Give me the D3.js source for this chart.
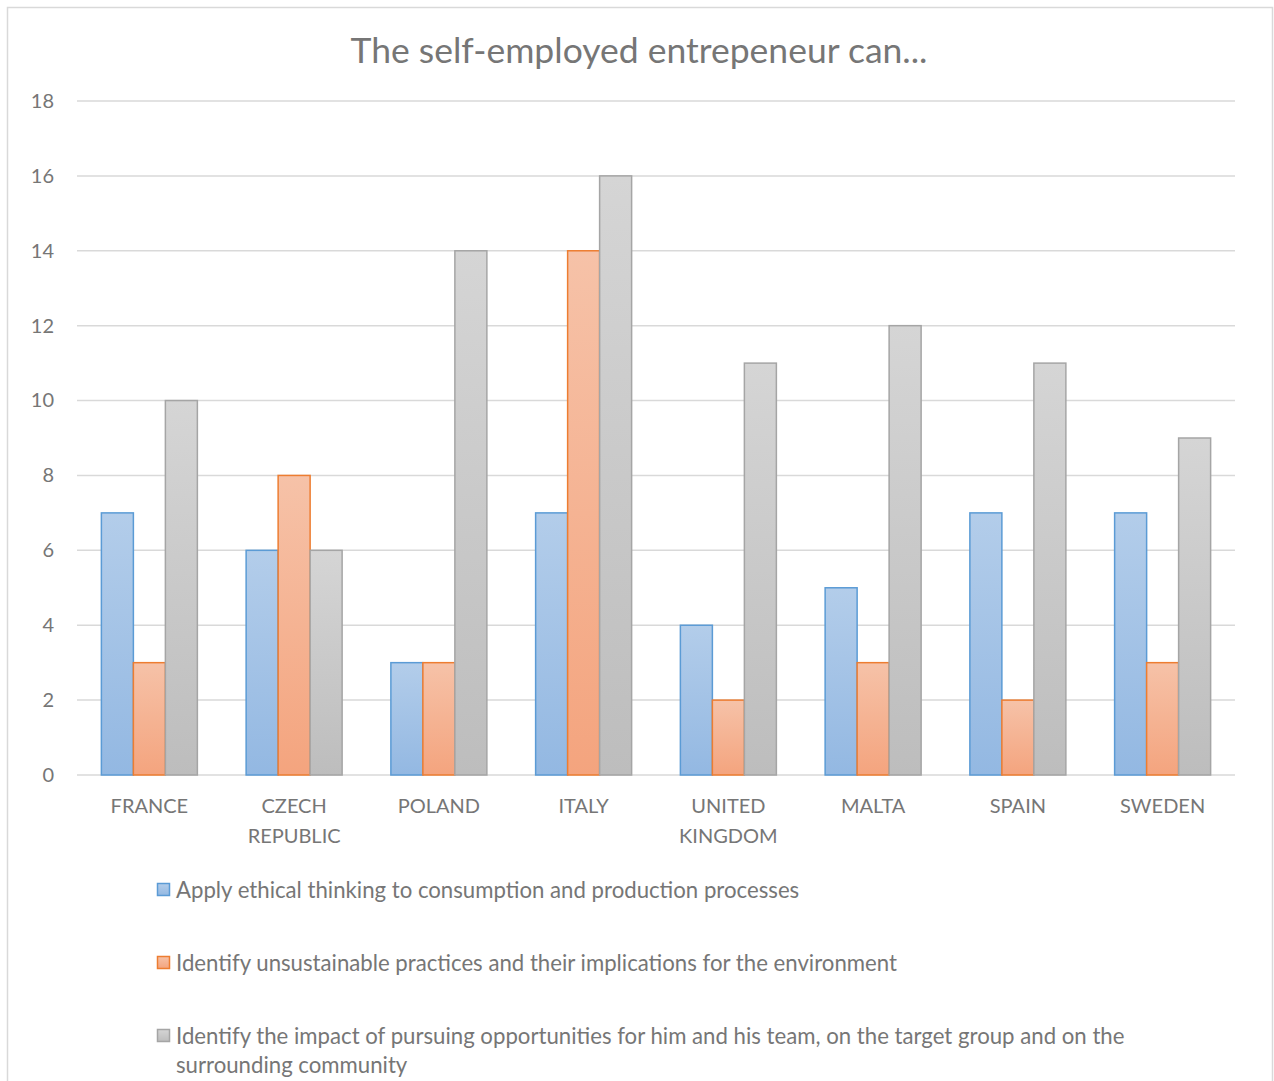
<!DOCTYPE html>
<html>
<head>
<meta charset="utf-8">
<script src="https://cdn.jsdelivr.net/npm/d3@7"></script>
<style>
  html, body { margin: 0; padding: 0; background: #fff; }
  svg { display: block; }
  text { font-family: Lato, "Open Sans", sans-serif; fill: #767676; }
</style>
</head>
<body>
<svg id="chart" width="1274" height="1081"></svg>
<script>
// Survey responses per country
const countries = [["FRANCE"], ["CZECH", "REPUBLIC"], ["POLAND"], ["ITALY"],
  ["UNITED", "KINGDOM"], ["MALTA"], ["SPAIN"], ["SWEDEN"]];
const seriesNames = [
  "Apply ethical thinking to consumption and production processes",
  "Identify unsustainable practices and their implications for the environment",
  "Identify the impact of pursuing opportunities for him and his team, on the target group and on the|surrounding community"
];
const ethicalThinking   = [7, 6, 3, 7, 4, 5, 7, 7];
const unsustainable     = [3, 8, 3, 14, 2, 3, 2, 3];
const impactOnCommunity = [10, 6, 14, 16, 11, 12, 11, 9];
const yTicks = [0, 2, 4, 6, 8, 10, 12, 14, 16, 18];

const series = [ethicalThinking, unsustainable, impactOnCommunity];
const palette = [
  { top: "#b3cdea", bottom: "#93b8e2", stroke: "#5b9bd5" },
  { top: "#f6c2a8", bottom: "#f4a47e", stroke: "#ed7d31" },
  { top: "#d5d5d5", bottom: "#bdbdbd", stroke: "#a5a5a5" }
];

const svg = d3.select("#chart");
const defs = svg.append("defs");
palette.forEach((p, i) => {
  const g = defs.append("linearGradient").attr("id", "grad" + i)
    .attr("x1", 0).attr("y1", 0).attr("x2", 0).attr("y2", 1);
  g.append("stop").attr("offset", "0%").attr("stop-color", p.top);
  g.append("stop").attr("offset", "100%").attr("stop-color", p.bottom);
});

// Chart frame
svg.append("rect").attr("x", 7.5).attr("y", 7.5).attr("width", 1265).attr("height", 1100)
  .attr("fill", "#fff").attr("stroke", "#d9d9d9").attr("stroke-width", 1.5);

const plotLeft = 77, plotRight = 1235, plotTop = 101, plotBottom = 775;

const x = d3.scaleBand().domain(d3.range(countries.length))
  .range([plotLeft, plotRight]).paddingInner(0.3368).paddingOuter(0.1684);
const xs = d3.scaleBand().domain(d3.range(series.length)).range([0, x.bandwidth()]);
const y = d3.scaleLinear().domain([0, 18]).range([plotBottom, plotTop]);

// Title
svg.append("text").attr("x", 639).attr("y", 63).attr("text-anchor", "middle")
  .style("font-size", "35.5px").text("The self-employed entrepeneur can...");

// Gridlines
svg.append("g").selectAll("line").data(yTicks).join("line")
  .attr("x1", plotLeft).attr("x2", plotRight)
  .attr("y1", d => y(d)).attr("y2", d => y(d))
  .attr("stroke", "#d9d9d9").attr("stroke-width", 1.5);

// Y axis labels
const yAxis = d3.axisLeft(y).tickValues(yTicks).tickSize(0).tickPadding(0);
const ya = svg.append("g").attr("transform", "translate(54,0)").call(yAxis);
ya.select(".domain").remove();
ya.selectAll("text").style("font-size", "20px").attr("fill", "#767676")
  .style("font-family", "Lato, sans-serif");

// Bars
series.forEach((vals, si) => {
  svg.append("g").selectAll("rect").data(vals).join("rect")
    .attr("x", (d, i) => x(i) + xs(si))
    .attr("y", d => y(d))
    .attr("width", xs.bandwidth())
    .attr("height", d => y(0) - y(d))
    .attr("fill", `url(#grad${si})`)
    .attr("stroke", palette[si].stroke).attr("stroke-width", 1.5);
});

// Category labels
const cat = svg.append("g").selectAll("text").data(countries).join("text")
  .attr("x", (d, i) => x(i) + x.bandwidth() / 2)
  .attr("y", 813).attr("text-anchor", "middle").style("font-size", "20px");
cat.selectAll("tspan").data(d => d).join("tspan")
  .attr("x", function () { return this.parentNode.getAttribute("x"); })
  .attr("dy", (d, i) => i === 0 ? 0 : 30).text(d => d);

// Legend
const legendY = [890, 963, 1036];
seriesNames.forEach((name, i) => {
  svg.append("rect").attr("x", 157.5).attr("y", legendY[i] - 6.5).attr("width", 12).attr("height", 12)
    .attr("fill", `url(#grad${i})`).attr("stroke", palette[i].stroke).attr("stroke-width", 1.5);
  const t = svg.append("text").attr("x", 176).attr("y", legendY[i] + 7.5).style("font-size", "22.2px");
  name.split("|").forEach((line, li) => {
    t.append("tspan").attr("x", 176).attr("dy", li === 0 ? 0 : 29).text(line);
  });
});
</script>
</body>
</html>
